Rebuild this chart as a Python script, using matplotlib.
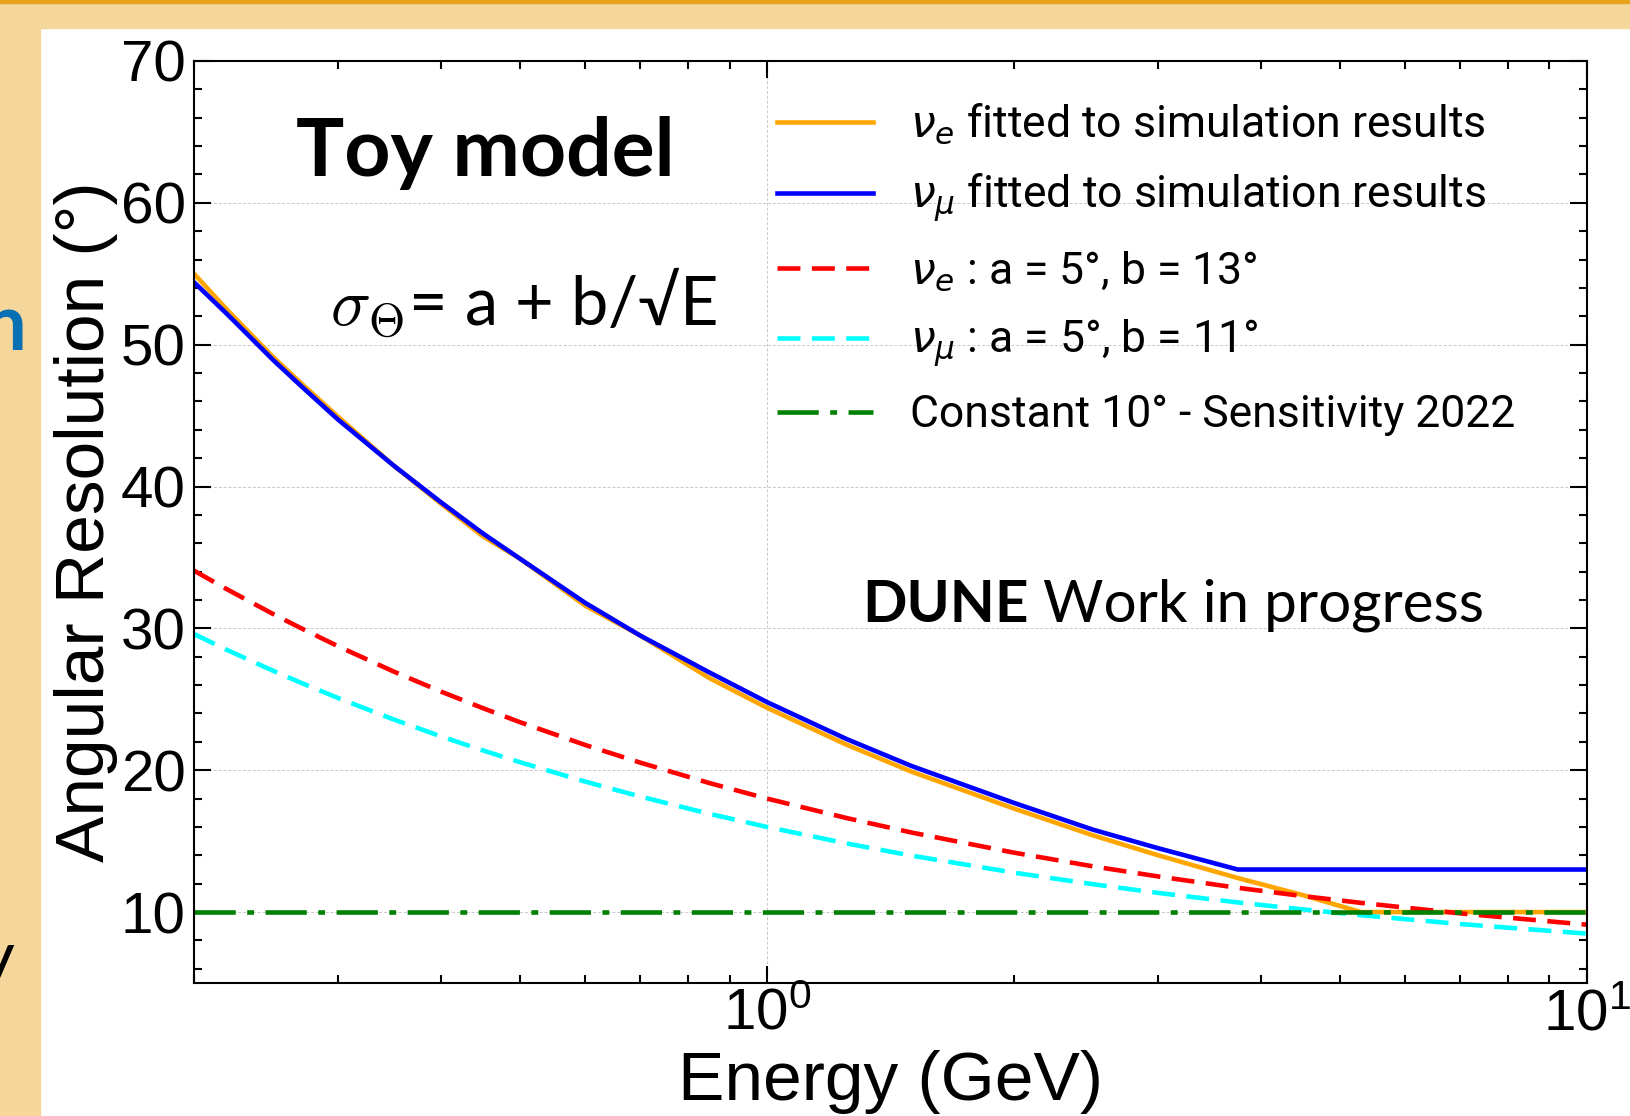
"""
Angular resolution vs energy: toy model curves.
"""
import matplotlib
matplotlib.use("Agg")
import matplotlib.pyplot as plt
from matplotlib.patches import Rectangle
from matplotlib.ticker import MultipleLocator, LogLocator

energy = [0.2, 0.22, 0.25, 0.27, 0.3, 0.35, 0.4, 0.45, 0.5, 0.6, 0.7, 0.85,
          1.0, 1.25, 1.5, 2.0, 2.5, 3.0, 3.75, 4.5, 5.3, 7.0, 10.0]

nue_fit = [55.0, 52.4, 49.1, 47.3, 44.9, 41.5, 38.8, 36.5, 34.9, 31.6, 29.5, 26.5,
           24.4, 21.8, 19.9, 17.3, 15.4, 14.0, 12.4, 11.2, 10.0, 10.0, 10.0]
numu_fit = [54.4, 52.1, 48.9, 47.1, 44.7, 41.5, 38.9, 36.7, 34.9, 31.8, 29.5, 26.9,
            24.8, 22.2, 20.3, 17.7, 15.8, 14.5, 13.0, 13.0, 13.0, 13.0, 13.0]
nue_toy = [34.07, 32.72, 31.0, 30.02, 28.73, 26.97, 25.55, 24.38, 23.38, 21.78, 20.54, 19.10,
           18.0, 16.63, 15.61, 14.19, 13.22, 12.51, 11.71, 11.13, 10.65, 9.91, 9.11]
numu_toy = [29.6, 28.45, 27.0, 26.17, 25.08, 23.59, 22.39, 21.40, 20.56, 19.2, 18.15, 16.93,
            16.0, 14.84, 13.98, 12.78, 11.96, 11.35, 10.68, 10.19, 9.78, 9.16, 8.48]
const_energy = [0.2, 10.0]
const_res = [10.0, 10.0]

labels = [r"$\nu_e$ fitted to simulation results",
          r"$\nu_\mu$ fitted to simulation results",
          r"$\nu_e$ : a = 5°, b = 13°",
          r"$\nu_\mu$ : a = 5°, b = 11°",
          "Constant 10° - Sensitivity 2022"]

W, H = 1630, 1116
fig = plt.figure(figsize=(W / 100, H / 100), dpi=100)
plt.rcParams["font.family"] = ["Liberation Sans", "DejaVu Sans"]

# slide decoration around the pasted plot
tan = "#F5D79B"
fig.patches.append(Rectangle((0, 1 - 28 / H), 1, 28 / H, transform=fig.transFigure,
                             color=tan, zorder=0))
fig.patches.append(Rectangle((0, 1 - 3 / H), 1, 3 / H, transform=fig.transFigure,
                             color="#E8A31C", zorder=1))
fig.patches.append(Rectangle((0, 0), 40 / W, 1, transform=fig.transFigure,
                             color=tan, zorder=0))
fig.text(-18 / W, 1 - 350 / H, "n", color="#0A70B4", fontsize=56, weight="bold",
         family="Lato", va="baseline")
fig.text(-22 / W, 1 - 980 / H, "y", color="black", fontsize=50,
         family="Lato", va="baseline")

ax = fig.add_axes([194 / W, 1 - 983 / H, (1587 - 194) / W, (983 - 61) / H])

lw = 3.3
ax.plot(energy, nue_fit, color="orange", lw=lw, label=labels[0])
ax.plot(energy, numu_fit, color="blue", lw=lw, label=labels[1])
ax.plot(energy, nue_toy, color="red", lw=lw, dashes=(5, 2.5), label=labels[2])
ax.plot(energy, numu_toy, color="cyan", lw=lw, dashes=(5, 2.5), label=labels[3])
ax.plot(const_energy, const_res, color="green", lw=lw, dashes=(9, 2.5, 1.5, 2.5),
        label=labels[4])

ax.set_xscale("log")
ax.set_xlim(0.2, 10)
ax.set_ylim(5, 70)
ax.yaxis.set_major_locator(MultipleLocator(10))
ax.yaxis.set_minor_locator(MultipleLocator(2))
ax.xaxis.set_minor_locator(LogLocator(base=10, subs=range(2, 10)))
ax.grid(True, which="major", color="#c8c8c8", lw=0.7, ls=(0, (3, 2)))

for s in ax.spines.values():
    s.set_linewidth(1.5)
ax.tick_params(which="both", direction="in", top=True, right=True, width=1.5)
ax.tick_params(which="major", length=12, labelsize=42, pad=6)
ax.tick_params(which="minor", length=6)
ax.tick_params(axis="x", which="major", pad=3)

ax.set_xlabel("Energy (GeV)", fontsize=50, labelpad=6)
ax.set_ylabel("Angular Resolution (°)", fontsize=50, labelpad=2)

leg = ax.legend(loc="upper left", bbox_to_anchor=(777 / W, 1 - 102 / H),
                bbox_transform=fig.transFigure, frameon=False, borderpad=0,
                borderaxespad=0, handlelength=2.15, handletextpad=0.85,
                labelspacing=0.56, prop={"family": "Roboto", "size": 32})

fig.text(296 / W, 1 - 176 / H, "Toy model", fontsize=58, weight="bold",
         family="Lato", va="baseline")
fig.text(330 / W, 1 - 326 / H, r"$\sigma_\Theta$= a + b/√E", fontsize=48,
         family=["Lato", "DejaVu Sans"], math_fontfamily="cm", va="baseline")
dune = fig.text(862 / W, 1 - 622 / H, "DUNE", fontsize=42, weight="bold",
                family="Lato", va="baseline")
ax.annotate(" Work in progress", xy=(1, 0), xycoords=dune, fontsize=42,
            family="Lato", va="bottom")

fig.savefig("out.png", dpi=100)
